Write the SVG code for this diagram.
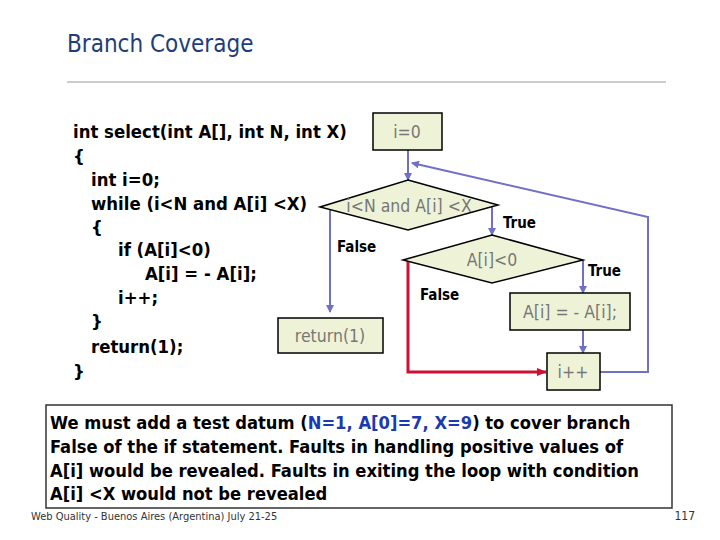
<svg xmlns="http://www.w3.org/2000/svg" width="720" height="540" viewBox="0 0 720 540">
<style>
text{font-family:"DejaVu Sans Condensed","DejaVu Sans",sans-serif;}
.code{font-size:18.4px;font-weight:bold;fill:#000}
.note{font-size:18.2px;font-weight:bold;fill:#000}
.box{fill:#eef3d8;stroke:#000;stroke-width:1.5}
.nt{font-size:17.5px;fill:#777;text-anchor:middle}
.lbl{font-size:15px;font-weight:bold;fill:#000}
.c{fill:none;stroke:#7070c8;stroke-width:2}
.r{fill:none;stroke:#cc1133;stroke-width:3}
</style>
<defs>
<marker id="a" markerWidth="8" markerHeight="8" refX="7" refY="4" orient="auto" markerUnits="userSpaceOnUse"><path d="M0,0L8,4L0,8z" fill="#7070c8"/></marker>
<marker id="ar" markerWidth="10" markerHeight="10" refX="9" refY="5" orient="auto" markerUnits="userSpaceOnUse"><path d="M0,1L10,5L0,9z" fill="#cc1133"/></marker>
</defs>
<rect width="720" height="540" fill="#fff"/>
<text x="67" y="52" font-size="24" fill="#1f3d7a">Branch Coverage</text>
<line x1="67" y1="82" x2="666" y2="82" stroke="#999" stroke-width="1"/>
<g id="code">
<text x="73" y="138" class="code">int select(int A[], int N, int X)</text>
<text x="73" y="163" class="code">{</text>
<text x="91" y="186" class="code">int i=0;</text>
<text x="91" y="210" class="code">while (i&lt;N and A[i] &lt;X)</text>
<text x="91" y="234" class="code">{</text>
<text x="118" y="256" class="code">if (A[i]&lt;0)</text>
<text x="145" y="280" class="code">A[i] = - A[i];</text>
<text x="118" y="304" class="code">i++;</text>
<text x="91" y="328" class="code">}</text>
<text x="91" y="353" class="code">return(1);</text>
<text x="73" y="378" class="code">}</text>
</g>
<g id="connectors">
<path class="c" d="M408,150V180" marker-end="url(#a)"/>
<path class="c" d="M330,207V312" marker-end="url(#a)"/>
<path class="c" d="M492,207V235" marker-end="url(#a)"/>
<path class="c" d="M583,260V293" marker-end="url(#a)"/>
<path class="c" d="M583,330V353" marker-end="url(#a)"/>
<path class="c" d="M600,372H648V217L412,163" marker-end="url(#a)"/>
<path class="r" d="M408,260V372H546" marker-end="url(#ar)"/>
</g>
<g id="n-i0"><rect class="box" x="373" y="113" width="69" height="37"/><text class="nt" x="407" y="138">i=0</text></g>
<g id="n-while"><polygon class="box" points="408,180 498,205 408,230 320,207"/><text class="nt" x="409" y="212">i&lt;N and A[i] &lt;X</text></g>
<g id="n-if"><polygon class="box" points="492,235 583,260 492,283 403,260"/><text class="nt" x="492" y="266">A[i]&lt;0</text></g>
<g id="n-neg"><rect class="box" x="510" y="293" width="120" height="37"/><text class="nt" x="570" y="318">A[i] = - A[i];</text></g>
<g id="n-inc"><rect class="box" x="547" y="353" width="53" height="37"/><text class="nt" x="573" y="378">i++</text></g>
<g id="n-ret"><rect class="box" x="278" y="318" width="105" height="35"/><text class="nt" x="330" y="342">return(1)</text></g>
<g id="labels">
<text class="lbl" x="337" y="252">False</text>
<text class="lbl" x="503" y="228">True</text>
<text class="lbl" x="420" y="300">False</text>
<text class="lbl" x="588" y="276">True</text>
</g>
<g id="note">
<rect x="46" y="405" width="626" height="103" fill="#fff" stroke="#333" stroke-width="1.5"/>
<text x="50" y="429" class="note">We must add a test datum (<tspan fill="#1a3ab0">N=1, A[0]=7, X=9</tspan>) to cover branch</text>
<text x="50" y="453" class="note">False of the if statement. Faults in handling positive values  of</text>
<text x="50" y="477" class="note">A[i] would be revealed. Faults in exiting the loop with condition</text>
<text x="50" y="500" class="note">A[i] &lt;X would not be revealed</text>
</g>
<text x="31" y="520" font-size="11" fill="#333">Web Quality - Buenos Aires (Argentina) July 21-25</text>
<text x="695" y="520" font-size="12" fill="#333" text-anchor="end">117</text>
</svg>
